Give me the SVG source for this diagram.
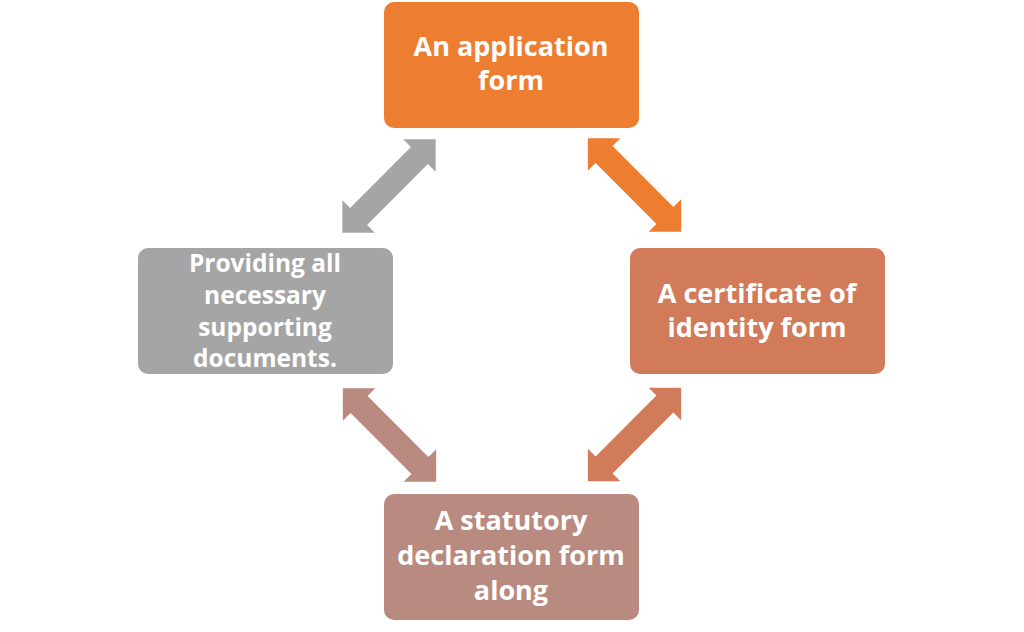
<svg xmlns="http://www.w3.org/2000/svg" width="1024" height="632" viewBox="0 0 1024 632">
<defs>
<style>
.t{font-family:"Open Sans","Liberation Sans",sans-serif;font-weight:bold;font-size:27px;fill:#ffffff;text-anchor:middle}
.s{font-size:24.5px}
</style>
<polygon id="dbl" points="-66,0 -43,-23 -43,-12 43,-12 43,-23 66,0 43,23 43,12 -43,12 -43,23"/>
</defs>
<rect width="1024" height="632" fill="#ffffff"/>
<g id="connectors">
<use href="#dbl" fill="#A5A5A5" transform="translate(389,186) rotate(-45)"/>
<use href="#dbl" fill="#ED7D31" transform="translate(634.5,185) rotate(45)"/>
<use href="#dbl" fill="#B98A80" transform="translate(389.5,435) rotate(45)"/>
<use href="#dbl" fill="#D27B5A" transform="translate(634.5,434.5) rotate(-45)"/>
</g>
<g id="n1">
<rect x="384" y="2" width="255" height="126" rx="10" fill="#ED7D31"/>
<text class="t" x="511" y="56">An application</text>
<text class="t" x="511" y="90">form</text>
</g>
<g id="n2">
<rect x="630" y="248" width="255" height="126" rx="10" fill="#D27B5A"/>
<text class="t" x="757" y="303">A certificate of</text>
<text class="t" x="757" y="337">identity form</text>
</g>
<g id="n3">
<rect x="384" y="494" width="255" height="126" rx="10" fill="#B98A80"/>
<text class="t" x="511" y="530">A statutory</text>
<text class="t" x="511" y="565">declaration form</text>
<text class="t" x="511" y="600">along</text>
</g>
<g id="n4">
<rect x="138" y="248" width="255" height="126" rx="10" fill="#A5A5A5"/>
<text class="t s" x="265" y="272">Providing all</text>
<text class="t s" x="265" y="304">necessary</text>
<text class="t s" x="265" y="336">supporting</text>
<text class="t s" x="265" y="367">documents.</text>
</g>
</svg>
